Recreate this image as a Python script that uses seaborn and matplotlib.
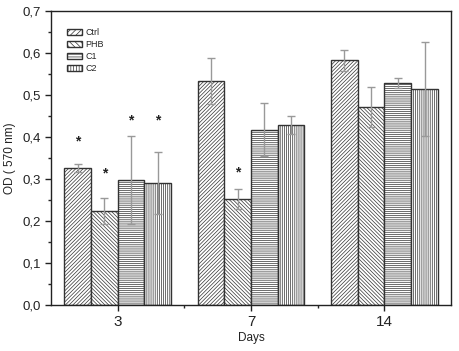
import numpy as np
import pandas as pd
import seaborn as sns
import matplotlib.pyplot as plt
from matplotlib.ticker import MultipleLocator, FuncFormatter

days = ["3", "7", "14"]
groups = ["Ctrl", "PHB", "C1", "C2"]
od_ctrl = [0.326, 0.534, 0.583]
od_phb = [0.223, 0.252, 0.471]
od_c1 = [0.298, 0.417, 0.529]
od_c2 = [0.290, 0.428, 0.514]
err_ctrl = [0.009, 0.055, 0.025]
err_phb = [0.031, 0.024, 0.048]
err_c1 = [0.104, 0.063, 0.012]
err_c2 = [0.074, 0.021, 0.111]
# asterisks: (day index, group index, y)
stars = [(0, 0, 0.389), (0, 1, 0.312), (0, 2, 0.440), (0, 3, 0.440), (1, 1, 0.315)]

sns.set_theme(style="ticks")
plt.rcParams["font.family"] = ["Liberation Sans", "DejaVu Sans"]
plt.rcParams["hatch.linewidth"] = 0.5
plt.rcParams["hatch.color"] = "#555555"

values = [od_ctrl, od_phb, od_c1, od_c2]
errors = [err_ctrl, err_phb, err_c1, err_c2]
rows = []
for g, vals in zip(groups, values):
    for d, v in zip(days, vals):
        rows.append({"Days": d, "group": g, "OD": v})
df = pd.DataFrame(rows)

fig = plt.figure(figsize=(4.59, 3.51), dpi=100)
ax = fig.add_axes([0.111, 0.131, 0.872, 0.838])

sns.barplot(data=df, x="Days", y="OD", hue="group", order=days, hue_order=groups,
            errorbar=None, width=0.8, palette=["white"] * 4,
            edgecolor="#333333", linewidth=1.0, ax=ax)

hatches = ["/" * 9, "\\" * 9, "-" * 8, "|" * 8]
bar_conts = list(ax.containers)
for gi, cont in enumerate(bar_conts):
    for di, patch in enumerate(cont.patches):
        patch.set_hatch(hatches[gi])
        cx = patch.get_x() + patch.get_width() / 2
        ax.errorbar(cx, values[gi][di], yerr=errors[gi][di], fmt="none",
                    ecolor="#999999", elinewidth=1.0, capsize=3, capthick=1.0, zorder=3)
for di, gi, y in stars:
    patch = bar_conts[gi].patches[di]
    ax.text(patch.get_x() + patch.get_width() / 2, y, "*", ha="center", va="center",
            fontsize=10, fontweight="bold", color="#222222")

ax.set_ylim(0, 0.7)
ax.set_xlim(-0.5, 2.5)
ax.yaxis.set_major_locator(MultipleLocator(0.1))
ax.yaxis.set_minor_locator(MultipleLocator(0.05))
ax.yaxis.set_major_formatter(FuncFormatter(lambda v, p: f"{v:.1f}".replace(".", ",")))
ax.set_xticks([0.5, 1.5], minor=True)
ax.tick_params(axis="both", which="major", direction="out", length=4, width=1, labelsize=9.5, colors="#222222")
ax.tick_params(axis="x", which="major", labelsize=11)
ax.tick_params(axis="both", which="minor", direction="out", length=2.5, width=1)
for s in ax.spines.values():
    s.set_visible(True)
    s.set_color("#222222")
    s.set_linewidth(1.0)
ax.set_xlabel("Days", fontsize=8.5, color="#222222", labelpad=2)
ax.set_ylabel("OD ( 570 nm)", fontsize=8.5, color="#222222", labelpad=4)

handles, labels = ax.get_legend_handles_labels()
leg = ax.legend(handles, labels, loc="upper left", bbox_to_anchor=(0.02, 0.97), frameon=False,
                fontsize=6.5, handlelength=1.7, handleheight=0.6, labelspacing=0.35, handletextpad=0.3)
for h, hatch in zip(leg.get_patches(), ["/" * 6, "\\" * 6, "-" * 6, "|" * 6]):
    h.set_hatch(hatch)
    h.set_facecolor("white")
    h.set_edgecolor("#333333")

fig.savefig("out.png", dpi=100)
